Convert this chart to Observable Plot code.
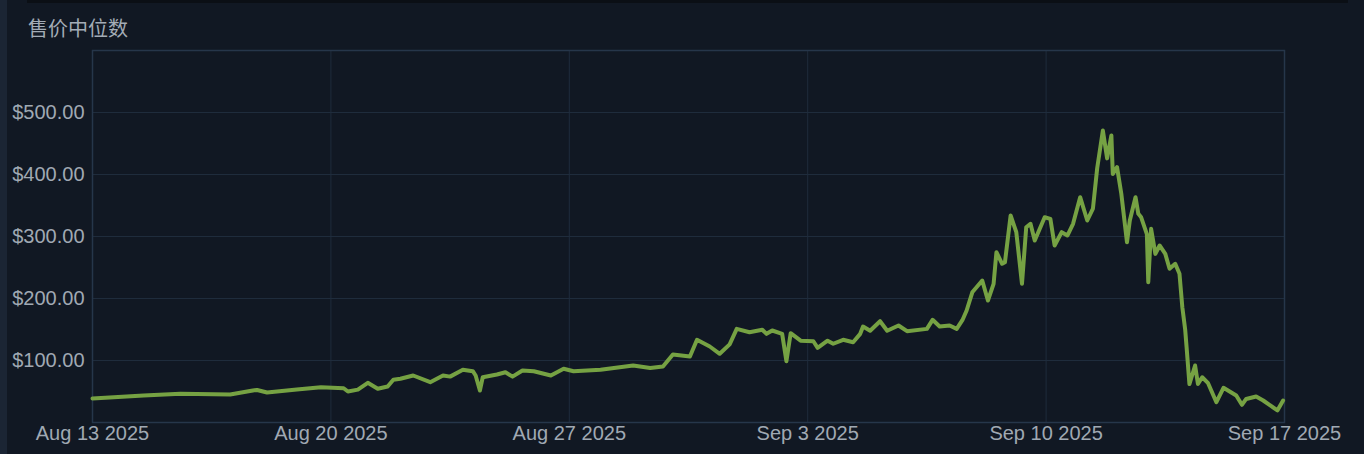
<!DOCTYPE html>
<html><head><meta charset="utf-8">
<script src="https://cdn.jsdelivr.net/npm/d3@7"></script>
<script src="https://cdn.jsdelivr.net/npm/@observablehq/plot@0.6"></script>
<style>
html,body{margin:0;padding:0;background:#111823;width:1364px;height:454px;overflow:hidden;}
#wrap{position:relative;width:1364px;height:454px;}
#strip{position:absolute;left:0;top:0;width:7px;height:454px;background:#1b2534;}
#topbar{position:absolute;left:27px;top:0;width:1321px;height:3px;background:#0b0f15;}
#title{position:absolute;left:28px;top:14px;font-family:"Noto Sans CJK SC","Noto Sans",sans-serif;font-size:20px;color:#a3acb6;line-height:28px;}
#chart{position:absolute;left:0;top:0;}
</style></head>
<body><div id="wrap"><div id="strip"></div><div id="topbar"></div><div id="chart"></div><div id="title">售价中位数</div></div>
<script>
const titleText = "售价中位数";
const times = [
"2025-08-13 00","2025-08-14 12","2025-08-15 14","2025-08-17 01","2025-08-17 17","2025-08-17 20","2025-08-18 03","2025-08-19 00","2025-08-19 17","2025-08-20 09","2025-08-20 12","2025-08-20 19","2025-08-21 02","2025-08-21 09","2025-08-21 16","2025-08-21 20","2025-08-22 01","2025-08-22 10","2025-08-22 22","2025-08-23 07","2025-08-23 12","2025-08-23 21","2025-08-24 04","2025-08-24 06","2025-08-24 09","2025-08-24 11","2025-08-24 21","2025-08-25 03","2025-08-25 08","2025-08-25 15","2025-08-25 23","2025-08-26 11","2025-08-26 20","2025-08-27 03","2025-08-27 22","2025-08-28 21","2025-08-29 09","2025-08-29 18","2025-08-30 01","2025-08-30 13","2025-08-30 18","2025-08-31 03","2025-08-31 10","2025-08-31 17","2025-08-31 22","2025-09-01 07","2025-09-01 16","2025-09-01 19","2025-09-01 23","2025-09-02 06","2025-09-02 09","2025-09-02 12","2025-09-02 19","2025-09-03 04","2025-09-03 07","2025-09-03 14","2025-09-03 18","2025-09-04 01","2025-09-04 08","2025-09-04 13","2025-09-04 15","2025-09-04 20","2025-09-05 03","2025-09-05 08","2025-09-05 16","2025-09-05 22","2025-09-06 12","2025-09-06 16","2025-09-06 21","2025-09-07 04","2025-09-07 09","2025-09-07 13","2025-09-07 16","2025-09-07 20","2025-09-08 03","2025-09-08 07","2025-09-08 11","2025-09-08 13","2025-09-08 17","2025-09-08 19","2025-09-08 23","2025-09-09 03","2025-09-09 07","2025-09-09 10","2025-09-09 13","2025-09-09 16","2025-09-09 23","2025-09-10 03","2025-09-10 06","2025-09-10 11","2025-09-10 15","2025-09-10 19","2025-09-11 00","2025-09-11 05","2025-09-11 09","2025-09-11 12","2025-09-11 16","2025-09-11 19","2025-09-11 22","2025-09-11 23","2025-09-12 02","2025-09-12 05","2025-09-12 09","2025-09-12 11","2025-09-12 15","2025-09-12 17","2025-09-12 19","2025-09-12 23","2025-09-13 00","2025-09-13 02","2025-09-13 05","2025-09-13 08","2025-09-13 12","2025-09-13 15","2025-09-13 19","2025-09-13 22","2025-09-14 00","2025-09-14 02","2025-09-14 03","2025-09-14 05","2025-09-14 09","2025-09-14 11","2025-09-14 14","2025-09-14 18","2025-09-15 00","2025-09-15 05","2025-09-15 14","2025-09-15 18","2025-09-15 21","2025-09-16 04","2025-09-16 09","2025-09-16 19","2025-09-16 23"
];
const prices = [
38.7,43.5,46.3,45.2,51.6,52.5,48.4,53.2,56.9,55.3,50,53,64,54.4,58,68.9,70.5,75.8,65,75.8,74,85,82.7,75.8,51.6,73,77.4,81,74,83.9,82.7,75.8,86.6,82.7,85,92,88,90.3,109.7,106.5,133.4,122.6,110.8,126,151,145.6,149.5,143,148.4,143,98.9,144,132,131,120.5,132,127,133.4,129.5,143,154.8,148,163.4,148,156.5,147.3,151,165.6,154.8,156.5,151,165,180.6,210,229,196.8,223.7,274.7,256,258.5,333.9,307,223.7,315,320.5,293.5,331,328.5,285.5,307,301.6,320.5,363.4,325.8,345,410,471,426,463,401,411.8,369,290.8,325.8,363.4,336.6,331,304,226.3,312.4,272,285.5,272,248,256,239.8,186,150,121.5,62,92,62,73,64,32.7,56,43.5,28.5,38,42,35.5,19.4,35.5
];
const yTicks = [100,200,300,400,500];
const xTickDates = ["2025-08-13","2025-08-20","2025-08-27","2025-09-03","2025-09-10","2025-09-17"];

const parseT = d3.utcParse("%Y-%m-%d %H");
const parseD = d3.utcParse("%Y-%m-%d");
const data = times.map((t,i)=>({date: parseT(t), price: prices[i]}));
const xTicks = xTickDates.map(parseD);
const fmtX = d3.utcFormat("%b %-d %Y");
const fmtY = d => "$" + d.toFixed(2);

const chart = Plot.plot({
  width: 1364,
  height: 454,
  marginLeft: 92,
  marginRight: 80,
  marginTop: 50,
  marginBottom: 32,
  style: {background: "transparent", fontFamily: "'Liberation Sans', Arial, sans-serif", fontSize: "20px", color: "#a0a9b3", overflow: "visible"},
  x: {type: "utc", domain: [xTicks[0], xTicks[xTicks.length-1]]},
  y: {domain: [0, 600]},
  marks: [
    Plot.gridX(xTicks, {stroke: "#1f2c3c", strokeOpacity: 1, strokeWidth: 1}),
    Plot.gridY(yTicks, {stroke: "#1f2c3c", strokeOpacity: 1, strokeWidth: 1}),
    Plot.frame({stroke: "#26364a", strokeWidth: 1.5}),
    Plot.axisY(yTicks, {tickSize: 0, tickPadding: 8, tickFormat: fmtY, label: null, fill: "#a0a9b3", fontSize: 20}),
    Plot.axisX(xTicks, {tickSize: 0, tickPadding: 3, tickFormat: fmtX, label: null, fill: "#a0a9b3", fontSize: 20}),
    Plot.line(data, {x: "date", y: "price", stroke: "#76a243", strokeWidth: 4, strokeLinejoin: "round", strokeLinecap: "round"})
  ]
});
document.getElementById("chart").appendChild(chart);
</script>
</body></html>
